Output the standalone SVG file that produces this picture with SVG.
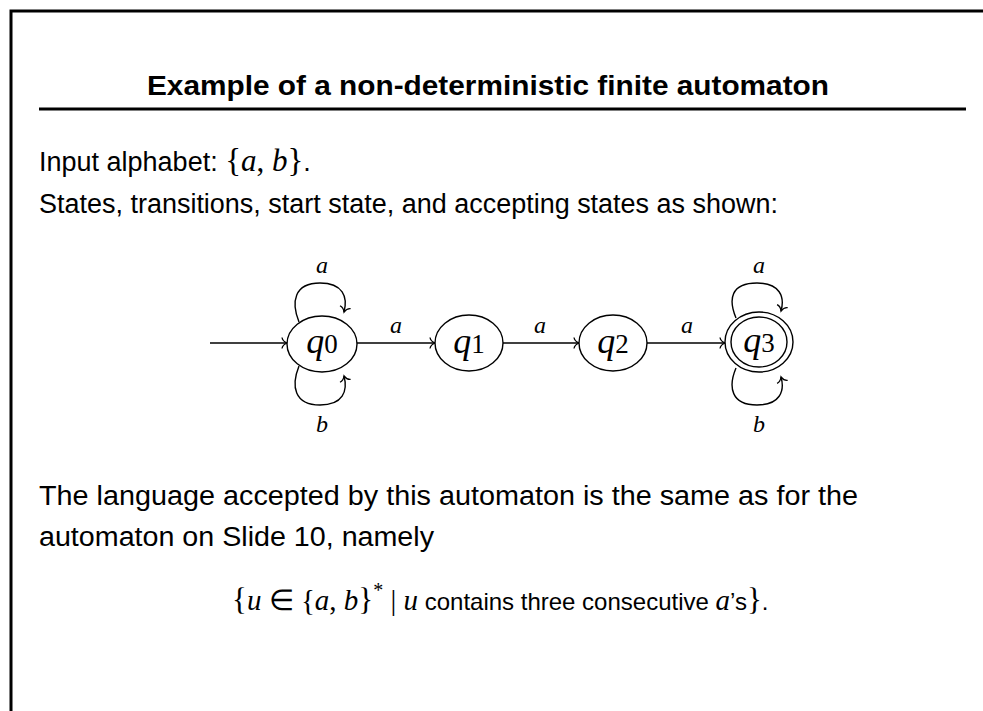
<svg xmlns="http://www.w3.org/2000/svg" width="983" height="711" viewBox="0 0 983 711">
<style>
.sans{font-family:"Liberation Sans",Arial,sans-serif;fill:#000}
.title{font-size:27px;font-weight:bold}
.body{font-size:27px}
.math{font-family:"Liberation Serif","Times New Roman",serif;fill:#000}
.it{font-style:italic}
.st{fill:#fff;stroke:#000;stroke-width:1.4}
.edge{fill:none;stroke:#000;stroke-width:1.4}
.lbl{font-size:24px;text-anchor:middle}
.ql{font-size:36px;text-anchor:middle}
</style>
<defs>
<marker id="arr" markerUnits="userSpaceOnUse" markerWidth="14" markerHeight="14" viewBox="-8 -7 10 14" refX="0" refY="0" orient="auto" overflow="visible">
<path d="M-5,-5.5 C-4.5,-2.5 -1.5,-0.6 0,0 C-1.5,0.6 -4.5,2.5 -5,5.5" fill="none" stroke="#000" stroke-width="1.3"/>
</marker>
</defs>
<rect width="983" height="711" fill="#fff"/>
<path d="M11,711 V11 H983" fill="none" stroke="#000" stroke-width="3"/>
<line x1="39" y1="109" x2="966" y2="109" stroke="#000" stroke-width="3"/>
<text class="sans title" x="147" y="95" textLength="682" lengthAdjust="spacingAndGlyphs">Example of a non-deterministic finite automaton</text>
<text class="sans body" x="39" y="171">Input alphabet: <tspan class="math" font-size="33">{</tspan><tspan class="math it" font-size="31">a</tspan><tspan class="math" font-size="31">, </tspan><tspan class="math it" font-size="31">b</tspan><tspan class="math" font-size="33">}</tspan>.</text>
<text class="sans body" x="39" y="213" textLength="739" lengthAdjust="spacingAndGlyphs">States, transitions, start state, and accepting states as shown:</text>
<g id="connectors">
<line class="edge" x1="210" y1="343" x2="287" y2="343" marker-end="url(#arr)"/>
<line class="edge" x1="357" y1="343" x2="435" y2="343" marker-end="url(#arr)"/>
<line class="edge" x1="503" y1="343" x2="579" y2="343" marker-end="url(#arr)"/>
<line class="edge" x1="647" y1="343" x2="725" y2="343" marker-end="url(#arr)"/>
<path class="edge" d="M299,322 C291,302 294,283 320,283 C343,283 348,297 344,312" marker-end="url(#arr)"/>
<path class="edge" d="M299,366 C291,386 294,405 320,405 C343,405 348,391 344,376" marker-end="url(#arr)"/>
<path class="edge" d="M736,318 C728,299 731,283 757,283 C780,283 785,297 781,311" marker-end="url(#arr)"/>
<path class="edge" d="M736,368 C728,387 731,405 757,405 C780,405 785,391 781,377" marker-end="url(#arr)"/>
<text class="math it lbl" x="322" y="273">a</text>
<text class="math it lbl" x="322" y="432">b</text>
<text class="math it lbl" x="396" y="333">a</text>
<text class="math it lbl" x="540" y="333">a</text>
<text class="math it lbl" x="687" y="333">a</text>
<text class="math it lbl" x="759" y="273">a</text>
<text class="math it lbl" x="759" y="432">b</text>
</g>
<g id="q0">
<ellipse class="st" cx="322" cy="344" rx="35" ry="28"/>
<text class="math ql" x="322" y="353"><tspan class="it">q</tspan><tspan font-size="27">0</tspan></text>
</g>
<g id="q1">
<ellipse class="st" cx="469" cy="343" rx="34" ry="28"/>
<text class="math ql" x="469" y="353"><tspan class="it">q</tspan><tspan font-size="27">1</tspan></text>
</g>
<g id="q2">
<ellipse class="st" cx="613" cy="343" rx="34" ry="28"/>
<text class="math ql" x="613" y="353"><tspan class="it">q</tspan><tspan font-size="27">2</tspan></text>
</g>
<g id="q3">
<ellipse class="st" cx="759" cy="342" rx="34" ry="30"/>
<ellipse class="st" cx="759" cy="342" rx="28" ry="25"/>
<text class="math ql" x="759" y="352"><tspan class="it">q</tspan><tspan font-size="27">3</tspan></text>
</g>
<text class="sans body" x="39" y="505" textLength="819" lengthAdjust="spacingAndGlyphs">The language accepted by this automaton is the same as for the</text>
<text class="sans body" x="39" y="546" textLength="395" lengthAdjust="spacingAndGlyphs">automaton on Slide 10, namely</text>
<text class="sans" font-size="24" x="232" y="610"><tspan class="math" font-size="31">{</tspan><tspan class="math it" font-size="29">u</tspan><tspan class="math" font-size="29"> ∈ {</tspan><tspan class="math it" font-size="29">a</tspan><tspan class="math" font-size="29">, </tspan><tspan class="math it" font-size="29">b</tspan><tspan class="math" font-size="31">}</tspan><tspan class="math" font-size="20" dy="-13">*</tspan><tspan class="math" font-size="29" dy="13"> | </tspan><tspan class="math it" font-size="29">u</tspan> contains three consecutive <tspan class="math it" font-size="29">a</tspan>’s<tspan class="math" font-size="31">}</tspan>.</text>
</svg>
